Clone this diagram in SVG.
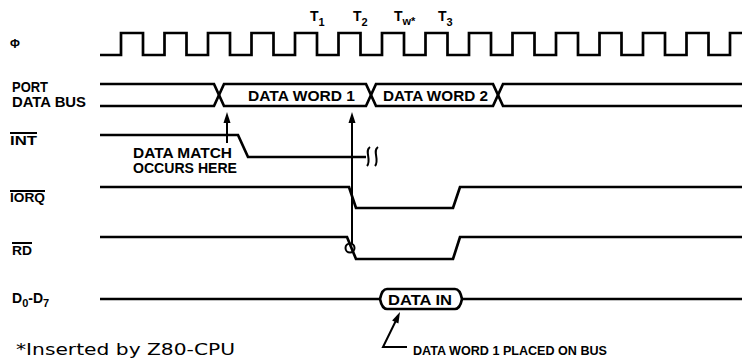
<svg xmlns="http://www.w3.org/2000/svg" width="742" height="360" viewBox="0 0 742 360">
<style>
.w{fill:none;stroke:#000;stroke-width:2.7;stroke-linejoin:miter}
.t{fill:none;stroke:#000;stroke-width:2}
.l{font-family:"Liberation Sans",Arial,sans-serif;font-weight:bold;fill:#000}
.f{font-family:"DejaVu Sans","Liberation Sans",sans-serif;fill:#000}
.ah{fill:#000;stroke:none}
</style>
<rect width="742" height="360" fill="#fff"/>
<g id="clock">
<text class="l" x="10" y="48" font-size="12">Φ</text>
<path class="w" d="M100,55H121V33H143V55H164.5V33H186.5V55H208V33H230V55H251.5V33H273.5V55H295V33H317V55H338.5V33H360.5V55H382V33H404V55H425.5V33H447.5V55H469V33H491V55H512.5V33H534.5V55H556V33H578V55H599.5V33H621.5V55H643V33H665V55H686.5V33H708.5V55H730V33H742"/>
<text class="l" x="310" y="21" font-size="14">T<tspan font-size="11" dy="5">1</tspan></text>
<text class="l" x="353" y="21" font-size="14">T<tspan font-size="11" dy="5">2</tspan></text>
<text class="l" x="394" y="21" font-size="14">T<tspan font-size="11" dy="4">w*</tspan></text>
<text class="l" x="438" y="21" font-size="14">T<tspan font-size="11" dy="5">3</tspan></text>
</g>
<g id="port-data-bus">
<text class="l" x="12" y="92" font-size="14" textLength="36" lengthAdjust="spacingAndGlyphs">PORT</text>
<text class="l" x="12" y="107" font-size="14" textLength="74" lengthAdjust="spacingAndGlyphs">DATA BUS</text>
<path class="w" d="M100,84H214L224,106H366L376,84H493L503,106H742"/>
<path class="w" d="M100,106H214L224,84H366L376,106H493L503,84H742"/>
<text class="l" x="248" y="100.5" font-size="15" textLength="107" lengthAdjust="spacingAndGlyphs">DATA WORD 1</text>
<text class="l" x="383" y="100.5" font-size="15" textLength="105" lengthAdjust="spacingAndGlyphs">DATA WORD 2</text>
</g>
<g id="int">
<text class="l" x="10" y="144.5" font-size="12" textLength="27" lengthAdjust="spacingAndGlyphs">INT</text>
<line class="t" x1="10" y1="133" x2="37" y2="133" stroke-width="1.3"/>
<path class="w" d="M100,135H238L248,157H366"/>
<path class="t" stroke-width="2.4" d="M370,147C364,151 372,160 367,166"/>
<path class="t" stroke-width="2.4" d="M378,147C372,151 380,160 375,166"/>
<text class="l" x="133" y="158" font-size="14.5" textLength="99" lengthAdjust="spacingAndGlyphs">DATA MATCH</text>
<text class="l" x="133" y="173" font-size="14.5" textLength="104" lengthAdjust="spacingAndGlyphs">OCCURS HERE</text>
</g>
<g id="iorq">
<text class="l" x="10" y="202" font-size="12" textLength="35" lengthAdjust="spacingAndGlyphs">IORQ</text>
<line class="t" x1="10" y1="191" x2="45" y2="191" stroke-width="1.3"/>
<path class="w" d="M100,187H349L356,208H453L460,187H742"/>
</g>
<g id="rd">
<text class="l" x="12" y="255" font-size="12" textLength="20" lengthAdjust="spacingAndGlyphs">RD</text>
<line class="t" x1="12" y1="243" x2="32" y2="243" stroke-width="1.3"/>
<path class="w" d="M100,237H347L356,259H453L460,237H742"/>
<circle class="t" cx="350" cy="248" r="4.5"/>
</g>
<g id="d0-d7">
<text class="l" x="12" y="303" font-size="14">D<tspan font-size="11" dy="4">0</tspan><tspan dy="-4">-D</tspan><tspan font-size="11" dy="4">7</tspan></text>
<path class="w" d="M100,299H380M462,299H742"/>
<path class="w" d="M380,299Q382,289 387,289H455Q460,289 462,299Q460,309 455,309H387Q382,309 380,299Z"/>
<text class="l" x="388" y="304.5" font-size="14" textLength="64" lengthAdjust="spacingAndGlyphs">DATA IN</text>
<text class="l" x="413" y="355" font-size="13.5" textLength="194" lengthAdjust="spacingAndGlyphs">DATA WORD 1 PLACED ON BUS</text>
</g>
<g id="connectors">
<line class="t" x1="227" y1="121" x2="227" y2="143"/>
<polygon class="ah" points="227,112 223.5,123 230.5,123"/>
<line class="t" x1="352" y1="121" x2="352" y2="244"/>
<polygon class="ah" points="352,112 348.5,123 355.5,123"/>
<polyline class="t" points="407,347 383,347 395.5,321.5"/>
<polygon class="ah" points="400,312 398.4,323.4 392.1,320.4"/>
</g>
<g id="footnote">
<text class="f" x="16" y="355" font-size="15" textLength="219" lengthAdjust="spacingAndGlyphs">*Inserted by Z80-CPU</text>
</g>
</svg>
